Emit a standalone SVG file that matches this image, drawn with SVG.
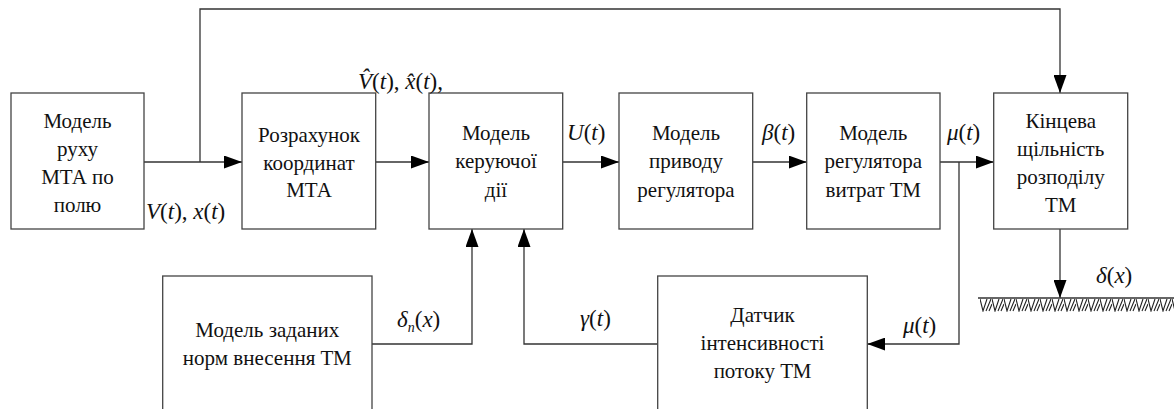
<svg xmlns="http://www.w3.org/2000/svg" width="1174" height="409" viewBox="0 0 1174 409" font-family="Liberation Serif, Times New Roman, DejaVu Serif, serif">
<style>
.box{fill:#fff;stroke:#444;stroke-width:1.3}
.ln{fill:none;stroke:#333;stroke-width:1.3}
.t{font-size:21px;fill:#111;text-anchor:middle}
.m{font-size:23px;fill:#111}
.i{font-style:italic}
</style>
<defs>
<marker id="arr" markerUnits="userSpaceOnUse" markerWidth="18" markerHeight="13" refX="18" refY="6.5" orient="auto">
<path d="M0,0 L18,6.5 L0,13 z" fill="#000"/>
</marker>
<pattern id="hatch" patternUnits="userSpaceOnUse" x="980" y="298" width="12" height="14">
<path d="M0,1 L3,13 L7,1 M6,13 L11,1 M9,13 L12,6" fill="none" stroke="#222" stroke-width="1.1"/>
</pattern>
</defs>

<g id="connectors">
<path class="ln" d="M144,162 H242" marker-end="url(#arr)"/>
<path class="ln" d="M200,162 V9 H1060 V93" marker-end="url(#arr)"/>
<path class="ln" d="M375.7,162 H429" marker-end="url(#arr)"/>
<path class="ln" d="M562.7,162 H619" marker-end="url(#arr)"/>
<path class="ln" d="M752.7,162 H806.7" marker-end="url(#arr)"/>
<path class="ln" d="M940,162 H993.7" marker-end="url(#arr)"/>
<path class="ln" d="M959,162 V344 H867.3" marker-end="url(#arr)"/>
<path class="ln" d="M657.7,344 H524 V229" marker-end="url(#arr)"/>
<path class="ln" d="M372,344 H472 V229" marker-end="url(#arr)"/>
<path class="ln" d="M1060,229 V298" marker-end="url(#arr)"/>
</g>

<g id="ground">
<rect x="980" y="298" width="194" height="14" fill="url(#hatch)"/>
<path class="ln" d="M978,298 H1174"/>
</g>

<g id="n1">
<rect class="box" x="11" y="93" width="133" height="136"/>
<text class="t" x="77.5" y="128">Модель</text>
<text class="t" x="77.5" y="156">руху</text>
<text class="t" x="77.5" y="184">МТА по</text>
<text class="t" x="77.5" y="212">полю</text>
</g>
<g id="n2">
<rect class="box" x="242" y="93" width="133.7" height="136"/>
<text class="t" x="309" y="142">Розрахунок</text>
<text class="t" x="309" y="170">координат</text>
<text class="t" x="309" y="197">МТА</text>
</g>
<g id="n3">
<rect class="box" x="429" y="93" width="133.7" height="136"/>
<text class="t" x="496" y="140">Модель</text>
<text class="t" x="496" y="168">керуючої</text>
<text class="t" x="496" y="197">дії</text>
</g>
<g id="n4">
<rect class="box" x="619" y="93" width="133.7" height="136"/>
<text class="t" x="686" y="140">Модель</text>
<text class="t" x="686" y="168">приводу</text>
<text class="t" x="686" y="197">регулятора</text>
</g>
<g id="n5">
<rect class="box" x="806.7" y="93" width="133.3" height="136"/>
<text class="t" x="873.3" y="140">Модель</text>
<text class="t" x="873.3" y="168">регулятора</text>
<text class="t" x="873.3" y="197">витрат ТМ</text>
</g>
<g id="n6">
<rect class="box" x="993.7" y="93" width="134" height="136"/>
<text class="t" x="1060.7" y="128">Кінцева</text>
<text class="t" x="1060.7" y="156">щільність</text>
<text class="t" x="1060.7" y="184">розподілу</text>
<text class="t" x="1060.7" y="212">ТМ</text>
</g>
<g id="n7">
<rect class="box" x="162.7" y="276" width="209.3" height="150"/>
<text class="t" x="267.3" y="337">Модель заданих</text>
<text class="t" x="267.3" y="365">норм внесення ТМ</text>
</g>
<g id="n8">
<rect class="box" x="657.7" y="276" width="209.6" height="150"/>
<text class="t" x="762.5" y="322">Датчик</text>
<text class="t" x="762.5" y="350">інтенсивності</text>
<text class="t" x="762.5" y="378">потоку ТМ</text>
</g>

<g id="labels">
<text class="m" x="146" y="219"><tspan class="i">V</tspan>(<tspan class="i">t</tspan>), <tspan class="i">x</tspan>(<tspan class="i">t</tspan>)</text>
<text class="m" x="358" y="89" font-size="21"><tspan class="i">V̂</tspan>(<tspan class="i">t</tspan>), <tspan class="i">x̂</tspan>(<tspan class="i">t</tspan>),</text>
<text class="m" x="567" y="140"><tspan class="i">U</tspan>(<tspan class="i">t</tspan>)</text>
<text class="m" x="762" y="140"><tspan class="i">β</tspan>(<tspan class="i">t</tspan>)</text>
<text class="m" x="947" y="140"><tspan class="i">μ</tspan>(<tspan class="i">t</tspan>)</text>
<text class="m" x="397" y="327"><tspan class="i">δ</tspan><tspan class="i" font-size="14" dy="5">n</tspan><tspan dy="-5">(</tspan><tspan class="i">x</tspan>)</text>
<text class="m" x="580" y="326"><tspan class="i">γ</tspan>(<tspan class="i">t</tspan>)</text>
<text class="m" x="903" y="333"><tspan class="i">μ</tspan>(<tspan class="i">t</tspan>)</text>
<text class="m" x="1096" y="283"><tspan class="i">δ</tspan>(<tspan class="i">x</tspan>)</text>
</g>
</svg>
